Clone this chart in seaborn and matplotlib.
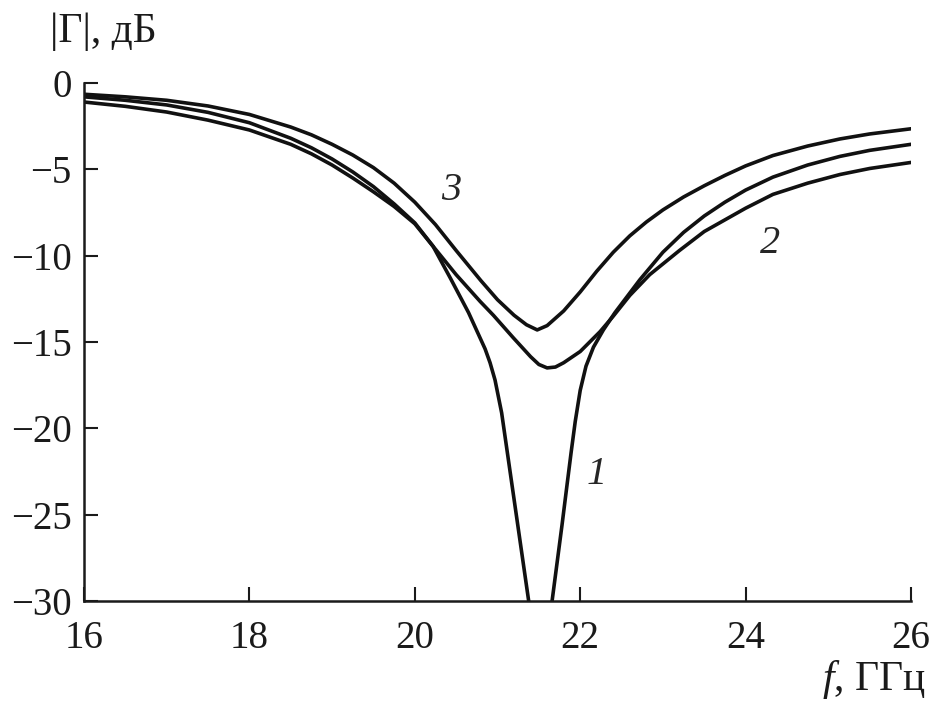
import numpy as np
import pandas as pd
import matplotlib
matplotlib.use("Agg")
import matplotlib.pyplot as plt
import seaborn as sns

## curve 1 (goes below -30 dB, clipped by the axes)
f1 = [16.0, 16.5, 17.0, 17.5, 18.0, 18.5, 18.75, 19.0, 19.25, 19.5, 19.75, 20.0,
      20.22, 20.43, 20.65, 20.85, 20.91, 20.97, 21.05, 21.11, 21.17, 21.23, 21.29,
      21.35, 21.38, 21.45, 21.57, 21.66, 21.72, 21.78, 21.84, 21.89, 21.94, 22.0,
      22.07, 22.16, 22.28, 22.42, 22.72, 23.0, 23.25, 23.5, 23.75, 24.0, 24.33,
      24.75, 25.14, 25.5, 26.0]
g1 = [-0.8, -1.0, -1.27, -1.7, -2.3, -3.2, -3.75, -4.4, -5.15, -6.0, -7.0, -8.1,
      -9.45, -11.3, -13.3, -15.4, -16.2, -17.2, -19.1, -21.1, -23.1, -25.1, -27.1,
      -29.1, -30.1, -33.0, -33.0, -30.0, -27.8, -25.6, -23.3, -21.4, -19.6, -17.8,
      -16.4, -15.3, -14.3, -13.3, -11.4, -9.8, -8.65, -7.7, -6.9, -6.2, -5.45,
      -4.75, -4.25, -3.9, -3.55]

## curve 2
f2 = [16.0, 16.5, 17.0, 17.5, 18.0, 18.5, 18.75, 19.0, 19.25, 19.5, 19.75, 20.0,
      20.22, 20.5, 20.79, 20.95, 21.19, 21.4, 21.5, 21.6, 21.7, 21.8, 22.0, 22.24,
      22.4, 22.6, 22.84, 23.2, 23.5, 24.0, 24.33, 24.75, 25.14, 25.5, 26.0]
g2 = [-1.1, -1.35, -1.68, -2.15, -2.72, -3.55, -4.1, -4.75, -5.5, -6.3, -7.15, -8.15,
      -9.45, -11.1, -12.65, -13.45, -14.75, -15.85, -16.3, -16.5, -16.45, -16.2, -15.55,
      -14.4, -13.5, -12.3, -11.1, -9.7, -8.6, -7.25, -6.45, -5.8, -5.3, -4.95, -4.6]

## curve 3
f3 = [16.0, 16.5, 17.0, 17.5, 18.0, 18.5, 18.75, 19.0, 19.25, 19.5, 19.75, 20.0,
      20.25, 20.5, 20.8, 21.0, 21.2, 21.35, 21.48, 21.6, 21.8, 22.0, 22.2, 22.4,
      22.6, 22.8, 23.0, 23.25, 23.5, 23.75, 24.0, 24.33, 24.75, 25.14, 25.5, 26.0]
g3 = [-0.65, -0.8, -1.0, -1.33, -1.82, -2.55, -3.0, -3.55, -4.17, -4.9, -5.8, -6.9,
      -8.2, -9.7, -11.45, -12.55, -13.45, -14.0, -14.3, -14.05, -13.2, -12.1, -10.9, -9.8,
      -8.85, -8.05, -7.35, -6.6, -5.95, -5.35, -4.8, -4.2, -3.65, -3.24, -2.95, -2.65]

curve_labels = ["1", "2", "3"]
xticks = [16, 18, 20, 22, 24, 26]
yticks = [0, -5, -10, -15, -20, -25, -30]

sns.set_style("ticks")
plt.rcParams['font.family'] = ['Liberation Serif', 'DejaVu Serif']
plt.rcParams['mathtext.fontset'] = 'custom'
plt.rcParams['mathtext.rm'] = 'Liberation Serif'
plt.rcParams['mathtext.it'] = 'Liberation Serif:italic'

fig = plt.figure(figsize=(9.32, 7.12), dpi=100)
ax = fig.add_axes([0.0901, 0.1559, 0.8874, 0.7275])

for f, g in [(f1, g1), (f2, g2), (f3, g3)]:
    df = pd.DataFrame({"f": f, "g": g})
    sns.lineplot(data=df, x="f", y="g", ax=ax, color="#111111", lw=2.6,
                 sort=False, estimator=None)

ax.set_xlim(16, 26)
ax.set_ylim(-30, 0)
ax.set_xticks(xticks)
ax.set_yticks(yticks)
ax.set_xlabel("")
ax.set_ylabel("")
sns.despine(ax=ax)
for s in ["left", "bottom"]:
    ax.spines[s].set_linewidth(1.8)
    ax.spines[s].set_color("#1a1a1a")
ax.tick_params(direction="in", length=10, width=1.5, colors="#1a1a1a",
               labelsize=28, pad=9)
ax.tick_params(axis="x", pad=14)

# curve numbers
ax.text(20.44, -6.2, curve_labels[2], fontsize=29, style="italic", ha="center", va="center")
ax.text(24.3, -9.3, curve_labels[1], fontsize=29, style="italic", ha="center", va="center")
ax.text(22.2, -22.7, curve_labels[0], fontsize=29, style="italic", ha="center", va="center")

fig.text(0.054, 0.941, "|Г|, дБ", fontsize=30, ha="left", va="baseline", color="#1a1a1a")
fig.text(0.9936, 0.031, "$f$, ГГц", fontsize=30, ha="right", va="baseline", color="#1a1a1a")

plt.savefig("out.png", dpi=100)
